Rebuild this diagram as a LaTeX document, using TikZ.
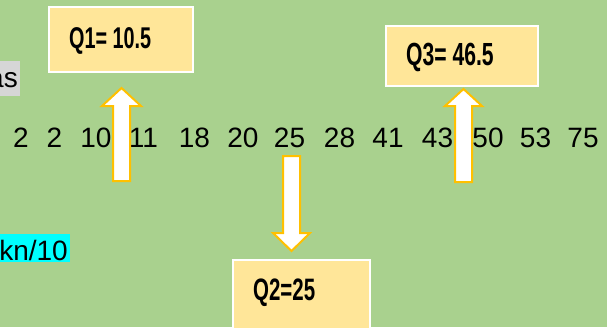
\documentclass[tikz,border=0pt]{standalone}
\usepackage{fontspec}
\setmainfont{Liberation Sans}
\newfontfamily\qfont[FakeStretch=0.66]{Liberation Sans Bold}
\definecolor{bggreen}{HTML}{A9D18E}
\definecolor{boxfill}{HTML}{FFE699}
\definecolor{arrorange}{HTML}{FFC000}
\definecolor{greyhl}{HTML}{D6D6D6}
\definecolor{cyanhl}{HTML}{00FFFF}
\tikzset{
  qbox/.style={draw=white, line width=2pt, fill=boxfill, inner sep=0pt},
  qtext/.style={anchor=base west, inner sep=0pt, font=\qfont},
  num/.style={anchor=base, inner sep=0pt, font=\fontsize{28}{32}\selectfont},
  side/.style={anchor=base east, inner sep=0pt, font=\fontsize{28}{32}\selectfont},
  fatarrow/.style={draw=arrorange, line width=2pt, fill=white, line join=miter}
}
\begin{document}
\begin{tikzpicture}[x=1pt,y=-1pt]
\useasboundingbox (0,0) rectangle (607,327);
\clip (0,0) rectangle (607,327);
\fill[bggreen] (0,0) rectangle (607,327);
% highlighted side texts
\fill[greyhl] (0,61) rectangle (20,96);
\node[side] (as) at (18,87) {as};
\fill[cyanhl] (0,234) rectangle (70,262);
\node[side] (kn) at (68,260) {kn/10};
% data row
\foreach \x/\v [count=\i] in {21/2,54.5/2,96/10,143.5/11,194.5/18,243/20,289.5/25,339.5/28,388/41,437.5/43,488/50,535.5/53,583/75}
  \node[num] (n\i) at (\x,147) {\v};
% boxes
\node[qbox, minimum width=144pt, minimum height=65pt] (b1) at (121,39.5) {};
\node[qtext, font=\qfont\fontsize{30}{32}\selectfont] (t1) at (69,48) {Q1= 10.5};
\node[qbox, minimum width=152pt, minimum height=60pt] (b3) at (462,56) {};
\node[qtext, font=\qfont\fontsize{32}{36}\selectfont] (t3) at (406,65) {Q3= 46.5};
\node[qbox, minimum width=137pt, minimum height=80pt] (b2) at (301.5,300) {};
\node[qtext, font=\qfont\fontsize{31}{34}\selectfont] (t2) at (253,300) {Q2=25};
% block arrows
\draw[fatarrow] (113,181) -- (113,106) -- (102,106) -- (121.5,88) -- (141,106) -- (130,106) -- (130,181) -- cycle;
\draw[fatarrow] (455,182) -- (455,106) -- (445,106) -- (463.5,89) -- (482,106) -- (472,106) -- (472,182) -- cycle;
\draw[fatarrow] (283,156) -- (283,233) -- (273,233) -- (291.5,251) -- (310,233) -- (300,233) -- (300,156) -- cycle;
\end{tikzpicture}
\end{document}
